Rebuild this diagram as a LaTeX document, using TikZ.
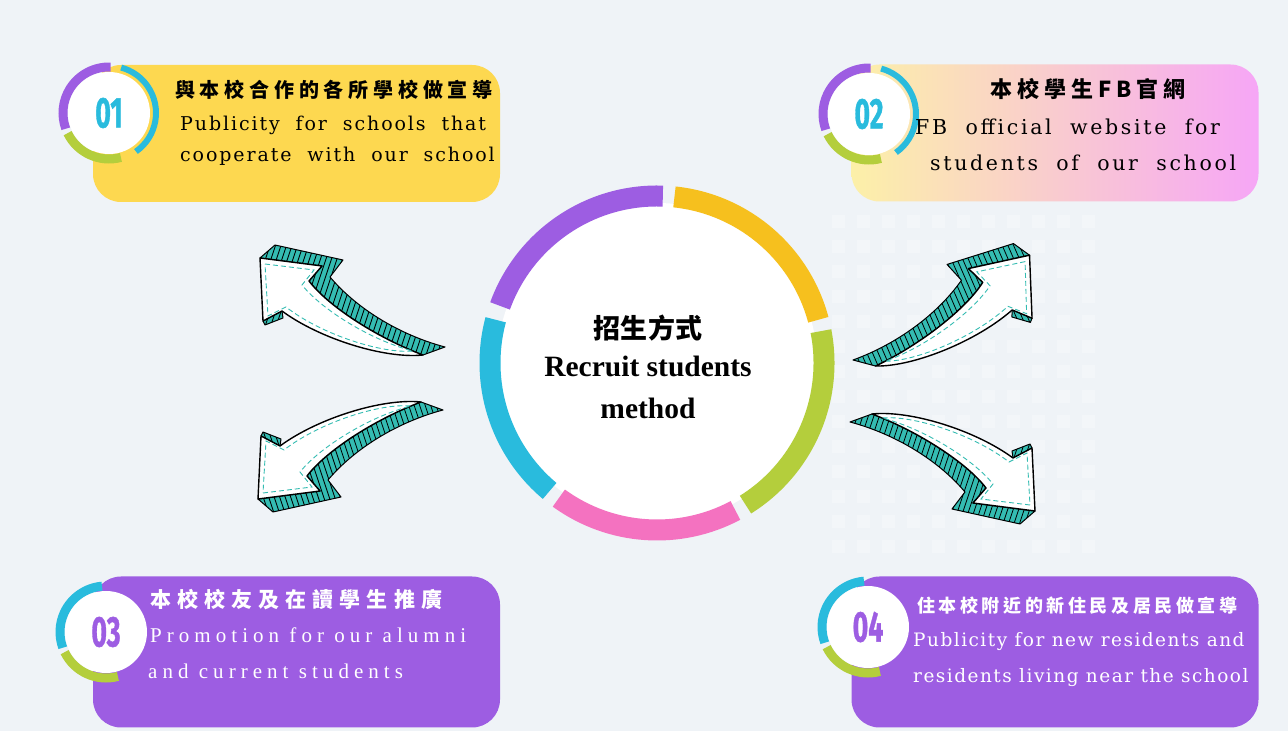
\documentclass[tikz,border=0pt]{standalone}
\usepackage{fontspec}
\setmainfont{Liberation Serif}
\newfontfamily\cjkfont{Noto Sans CJK TC}
\newfontfamily\latfont{DejaVu Serif}
\newfontfamily\numfont{Fira Sans}
\usetikzlibrary{positioning}
\newcommand{\widespace}{\spaceskip=2\fontdimen2\font\relax}

\definecolor{bgc}{RGB}{239,243,247}
\definecolor{vio}{RGB}{157,93,226}
\definecolor{sun}{RGB}{253,216,80}
\definecolor{ringy}{RGB}{246,192,30}
\definecolor{lime}{RGB}{180,206,60}
\definecolor{rose}{RGB}{244,114,192}
\definecolor{sky}{RGB}{41,187,221}
\definecolor{tealc}{RGB}{52,188,178}
\definecolor{paleye}{RGB}{252,240,168}
\definecolor{peach}{RGB}{252,212,200}
\definecolor{pinky}{RGB}{246,166,246}

\tikzset{
  card/.style={rounded corners=28pt, minimum width=407pt, minimum height=137pt, inner sep=0pt},
  disc/.style={circle, fill=white, minimum size=82pt, inner sep=0pt},
  digits/.style={font=\numfont\bfseries\fontsize{43}{43}\selectfont\addfontfeature{FakeBold=1.2}, inner sep=0pt},
  zh/.style args={#1/#2}{font=\cjkfont\bfseries\fontsize{#1}{#1}\selectfont\addfontfeature{LetterSpace=#2}, inner sep=0pt},
  en/.style args={#1/#2}{font=\fontsize{#1}{#1}\selectfont\addfontfeature{LetterSpace=#2}, inner sep=0pt},
  ming/.style args={#1/#2}{font=\latfont\fontsize{#1}{#1}\selectfont\addfontfeature{LetterSpace=#2}, inner sep=0pt},
  wide/.style={execute at begin node=\widespace},
}

% one 3d arrow, tail end at the origin, head to the upper left
\def\tealbody{(-185,89) -- (-170,102) -- (-102,87) -- (-115,70) .. controls (-88,38) and (-45,12) .. (0,0) -- (-22,-8) .. controls (-70,10) and (-118,42) .. (-136,66) -- (-123,81) -- cycle}
\def\tealbarb{(-163,36) -- (-162,29) -- (-180,22) -- (-182,26) -- cycle}
\newcommand{\swoosh}[1]{%
  \begin{scope}[#1]
    \fill[tealc] \tealbody \tealbarb;
    \begin{scope}
      \clip \tealbody \tealbarb;
      \foreach \k in {-232,-226.5,...,2} { \draw[line width=0.8pt] (\k,-20) -- ++(45,135); }
    \end{scope}
    \draw[line width=1pt, line join=round] \tealbody \tealbarb;
    \filldraw[fill=white, line width=1.4pt, line join=round] (-185,89) -- (-123,81) -- (-136,66) .. controls (-118,42) and (-70,10) .. (-22,-8) .. controls (-60,-12) and (-125,8) .. (-163,36) -- (-182,26) -- cycle;
    \draw[tealc, line width=0.9pt, dash pattern=on 5pt off 3pt] (-180,83) -- (-131,77) -- (-143,62) .. controls (-122,36) and (-72,6) .. (-32,-4) .. controls (-62,-7) and (-123,12) .. (-159,40) -- (-177,31) -- cycle;
  \end{scope}}

\begin{document}
\begin{tikzpicture}[x=1pt, y=1pt]
  \useasboundingbox (0,0) rectangle (1288,731);
  \fill[bgc] (0,0) rectangle (1288,731);
  % faint tiles behind
  \foreach \i in {0,...,10} { \foreach \j in {0,...,13} {
    \fill[white, opacity=0.3] (832+\i*25,516-\j*25) rectangle +(13,-13); } }

  % cards
  \node[card, fill=sun] (box1) at (296.5,597.5) {};
  \node[card, left color=paleye, middle color=peach, right color=pinky] (box2) at (1055,598) {};
  \node[card, fill=vio, minimum height=151pt] (box3) at (296.5,79) {};
  \node[card, fill=vio, minimum height=151pt] (box4) at (1055,79) {};

  % badges
  \coordinate (c1) at (109,618);
  \coordinate (c2) at (869,617);
  \coordinate (c3) at (106,99);
  \coordinate (c4) at (868,104);
  \foreach \c in {c1,c2} {
    \draw[vio, line width=9pt] (\c) ++(88:46) arc (88:200:46);
    \draw[sky, line width=6pt] (\c) ++(-55:47) arc (-55:75:47);
    \draw[lime, line width=9pt] (\c) ++(206:46) arc (206:285:46);
  }
  \foreach \c in {c3,c4} {
    \draw[sky, line width=9pt] (\c) ++(95:46) arc (95:200:46);
    \draw[lime, line width=9pt] (\c) ++(206:46) arc (206:285:46);
  }
  \node[disc] (b1) at (c1) {};
  \node[disc] (b2) at (c2) {};
  \node[disc] (b3) at (c3) {};
  \node[disc] (b4) at (c4) {};
  \node[digits, text=sky] (n1) at (b1) {\scalebox{0.62}[1]{01}};
  \node[digits, text=sky] (n2) at (b2) {\scalebox{0.62}[1]{02}};
  \node[digits, text=vio] (n3) at (b3) {\scalebox{0.62}[1]{03}};
  \node[digits, text=vio] (n4) at (b4) {\scalebox{0.62}[1]{04}};

  % card texts
  \node[zh=20/24, anchor=west] (t1) at (175,641) {與本校合作的各所學校做宣導};
  \node[ming=19/10, wide, anchor=west] (t1a) at (180,606) {Publicity for schools that};
  \node[ming=19/10, wide, anchor=west] (t1b) at (180,575) {cooperate with our school};
  \node[zh=22/22] (t2) at (1088,642) {本校學生FB官網};
  \node[ming=20.5/13, wide, anchor=west] (t2a) at (915,604) {FB official website for};
  \node[ming=20.5/13, wide, anchor=west] (t2b) at (930,568) {students of our school};
  \node[zh=21/29, anchor=west, text=white] (t3) at (150,131) {本校校友及在讀學生推廣};
  \node[en=21/24, anchor=west, text=white] (t3a) at (150,96) {Promotion for our alumni};
  \node[en=21/24, anchor=west, text=white] (t3b) at (148,60) {and current students};
  \node[zh=18/20, anchor=west, text=white] (t4) at (917,125) {住本校附近的新住民及居民做宣導};
  \node[ming=18.5/8, anchor=west, text=white] (t4a) at (913,89) {Publicity for new residents and};
  \node[ming=18.5/8, anchor=west, text=white] (t4b) at (913,53) {residents living near the school};

  % arrows
  \swoosh{shift={(445,384)}}
  \swoosh{shift={(853,371)}, xscale=-1, rotate=-5}
  \swoosh{shift={(443,321)}, yscale=-1}
  \swoosh{shift={(850,309)}, scale=-1}

  % centre ring
  \node[circle, fill=white, minimum size=320pt, inner sep=0pt] (hub) at (657,368) {};
  \foreach \col/\a/\b in {vio/88/160, ringy/15/84, lime/-58/11, rose/-126/-62, sky/165/230} {
    \draw[\col, line width=21pt] (hub.center) ++(\a:167) arc (\a:\b:167);
  }
  \node[zh=27/2] (hubzh) at (648,403) {招生方式};
  \node[font=\bfseries\fontsize{29.5}{29.5}\selectfont, inner sep=0pt] (hub1) at (648,365) {Recruit students};
  \node[font=\bfseries\fontsize{29.5}{29.5}\selectfont, inner sep=0pt] (hub2) at (648,323) {method};
\end{tikzpicture}
\end{document}
